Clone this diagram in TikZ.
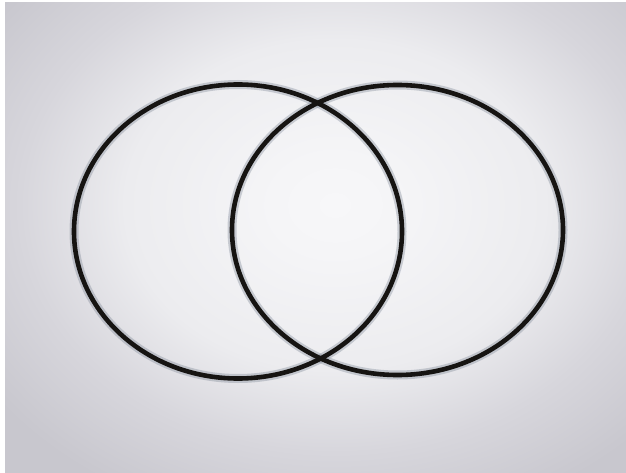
\documentclass[tikz,border=0pt]{standalone}
\usetikzlibrary{shadings}
\definecolor{bgA}{RGB}{247,247,249}
\definecolor{bgA2}{RGB}{245,245,247}
\definecolor{bgB}{RGB}{236,236,239}
\definecolor{bgC}{RGB}{215,214,220}
\definecolor{bgD}{RGB}{200,199,206}
\definecolor{ink}{RGB}{22,20,18}
\definecolor{halo}{RGB}{120,130,145}
\pgfdeclareradialshading{paper}{\pgfpoint{0bp}{0bp}}{color(0bp)=(bgA); color(3.75bp)=(bgA2); color(12.5bp)=(bgB); color(18.75bp)=(bgC); color(25bp)=(bgD); color(50bp)=(bgD)}
\tikzset{
  ring/.style={draw=ink, line width=4.6pt},
  ringhalo/.style={draw=halo, line width=9pt, opacity=0.35}
}
\begin{document}
\begin{tikzpicture}[x=1pt,y=1pt]
\useasboundingbox (0,0) rectangle (626,472);
\fill[white] (0,0) rectangle (626,472);
\begin{scope}
\clip (5,-1) rectangle (627,469);
\fill[bgD] (5,-1) rectangle (627,469);
\shade[shading=paper] (335,267) ellipse [x radius=420, y radius=330];
\end{scope}
\coordinate (L) at (238,240.5);
\coordinate (R) at (397.5,242);
\draw[ringhalo] (L) ellipse [x radius=164, y radius=147];
\draw[ringhalo] (R) ellipse [x radius=165.5, y radius=145];
\draw[ring] (L) ellipse [x radius=164, y radius=147];
\draw[ring] (R) ellipse [x radius=165.5, y radius=145];
\end{tikzpicture}
\end{document}
